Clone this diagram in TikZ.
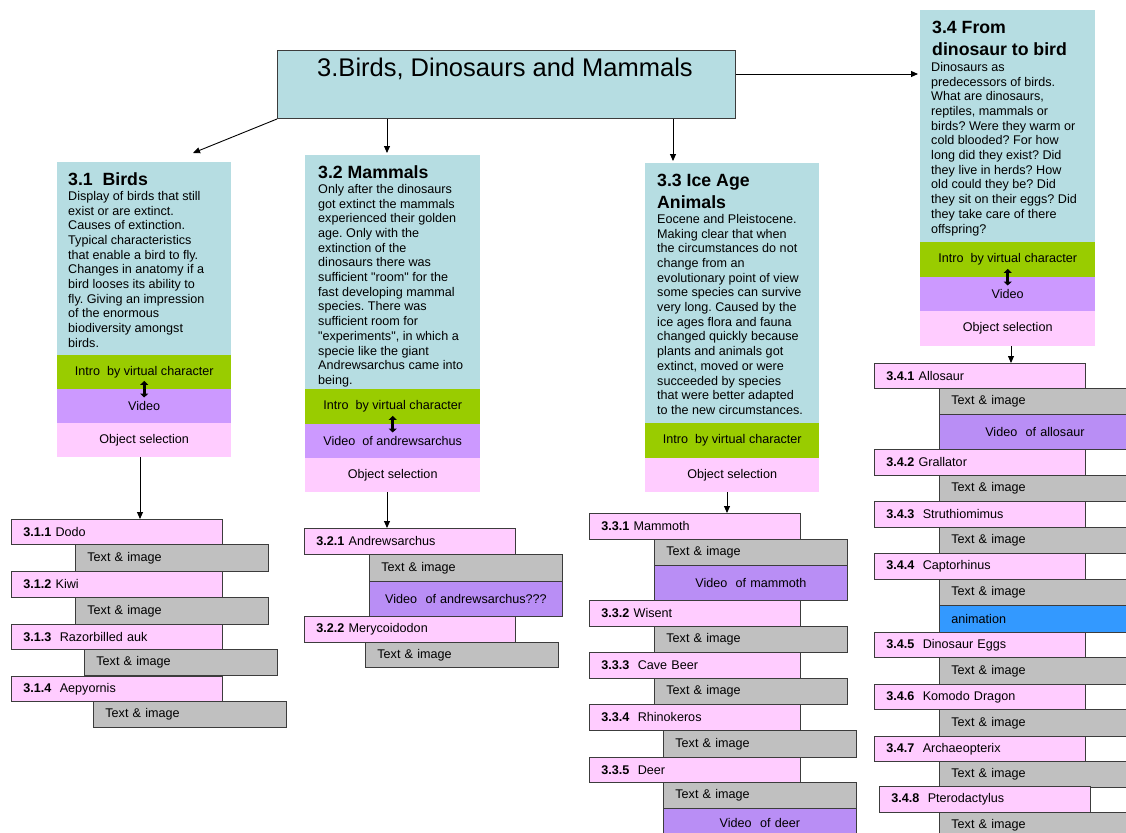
\documentclass[tikz,border=0pt]{standalone}
\usepackage{fontspec}
\setmainfont{Liberation Sans}[Ligatures=TeXOff]
\usetikzlibrary{arrows.meta}
\frenchspacing
\definecolor{hblue}{RGB}{182,221,226}
\definecolor{igreen}{RGB}{153,204,0}
\definecolor{vpurple}{RGB}{204,153,255}
\definecolor{vpurpletwo}{RGB}{185,142,245}
\definecolor{opink}{RGB}{255,204,255}
\definecolor{tgray}{RGB}{192,192,192}
\definecolor{anblue}{RGB}{51,153,255}
\definecolor{edgec}{RGB}{60,60,60}
\newcommand\hfnt{\fontsize{17.7}{22}\selectfont\bfseries}
\newcommand\bfnt{\fontsize{12.6}{14.7}\selectfont}
\newcommand\lfnt{\fontsize{12.6}{14.7}\selectfont}
\begin{document}
\begin{tikzpicture}[x=1pt,y=-1pt,
  hdrbox/.style={anchor=north west, inner sep=0pt, fill=hblue},
  bandbox/.style={anchor=north west, inner sep=0pt, font=\lfnt, align=center},
  headtext/.style={anchor=north west, inner sep=0pt, font=\hfnt, align=left},
  bodytext/.style={anchor=north west, inner sep=0pt, font=\bfnt, align=left},
  itembox/.style={anchor=north west, draw=edgec, line width=0.8pt, inner xsep=12pt, inner ysep=0pt, font=\lfnt},
  pk/.style={itembox, fill=opink, text width=187pt, align=left},
  gr/.style={itembox, fill=tgray, text width=169pt, align=left},
  gw/.style={itembox, fill=tgray, text width=167pt, align=left},
  vd/.style={itembox, fill=vpurpletwo, text width=169pt, align=center},
  conn/.style={line width=0.9pt, -{Triangle[width=6pt,length=7pt]}},
  dblarrow/.style={line width=2.8pt, {Triangle[width=8pt,length=4pt]}-{Triangle[width=8pt,length=4pt]}}
]
\useasboundingbox (0,0) rectangle (1126,832);
\clip (0,0) rectangle (1126,832);
\fill[white] (0,0) rectangle (1126,832);

% title
\node[anchor=north west, draw=edgec, line width=1pt, fill=hblue, minimum width=458pt, minimum height=68pt, inner sep=0pt] (title) at (277,50) {};
\node[font=\fontsize{25.5}{30}\selectfont, inner sep=0pt] (ttl) at (505,69) {3.Birds, Dinosaurs and Mammals};

% ---------- 3.1 ----------
\node[hdrbox, minimum width=174pt, minimum height=193pt] (b31) at (57,162) {};
\node[headtext] (h31) at (68,172.5) {3.1\ \ Birds};
\node[bodytext] (d31) at (68,191) {Display of birds that still\\exist or are extinct.\\Causes of extinction.\\Typical characteristics\\that enable a bird to fly.\\Changes in anatomy if a\\bird looses its ability to\\fly. Giving an impression\\of the enormous\\biodiversity amongst\\birds.};
\node[bandbox, fill=igreen, minimum width=174pt, minimum height=34pt] (g31) at (57,355) {Intro\ \ by virtual character};
\node[bandbox, fill=vpurple, minimum width=174pt, minimum height=34pt] (v31) at (57,389) {Video};
\node[bandbox, fill=opink, minimum width=174pt, minimum height=34pt] (o31) at (57,423) {Object selection};
\draw[dblarrow] ([yshift=8.5pt]g31.south) -- ([yshift=-8.5pt]v31.north);

% ---------- 3.2 ----------
\node[hdrbox, minimum width=175pt, minimum height=234pt] (b32) at (305,155) {};
\node[headtext] (h32) at (318,165.5) {3.2 Mammals};
\node[bodytext] (d32) at (318,184) {Only after the dinosaurs\\got extinct the mammals\\experienced their golden\\age. Only with the\\extinction of the\\dinosaurs there was\\sufficient "room" for the\\fast developing mammal\\species. There was\\sufficient room for\\"experiments", in which a\\specie like the giant\\Andrewsarchus came into\\being.};
\node[bandbox, fill=igreen, minimum width=175pt, minimum height=35pt] (g32) at (305,389) {Intro\ \ by virtual character};
\node[bandbox, fill=vpurple, minimum width=175pt, minimum height=34pt] (v32) at (305,424) {Video\ \ of andrewsarchus};
\node[bandbox, fill=opink, minimum width=175pt, minimum height=34pt] (o32) at (305,458) {Object selection};
\draw[dblarrow] ([yshift=8.5pt]g32.south) -- ([yshift=-8.5pt]v32.north);

% ---------- 3.3 ----------
\node[hdrbox, minimum width=174pt, minimum height=260pt] (b33) at (645,163) {};
\node[headtext] (h33) at (657,173.5) {3.3 Ice Age\\Animals};
\node[bodytext] (d33) at (657,214) {Eocene and Pleistocene.\\Making clear that when\\the circumstances do not\\change from an\\evolutionary point of view\\some species can survive\\very long. Caused by the\\ice ages flora and fauna\\changed quickly because\\plants and animals got\\extinct, moved or were\\succeeded by species\\that were better adapted\\to the new circumstances.};
\node[bandbox, fill=igreen, minimum width=174pt, minimum height=35pt] (g33) at (645,423) {Intro\ \ by virtual character};
\node[bandbox, fill=opink, minimum width=174pt, minimum height=34pt] (o33) at (645,458) {Object selection};

% ---------- 3.4 ----------
\node[hdrbox, minimum width=175pt, minimum height=232pt] (b34) at (920,10) {};
\node[headtext] (h34) at (932,20.5) {3.4 From\\dinosaur to bird};
\node[bodytext] (d34) at (931,62) {Dinosaurs as\\predecessors of birds.\\What are dinosaurs,\\reptiles, mammals or\\birds? Were they warm or\\cold blooded? For how\\long did they exist? Did\\they live in herds? How\\old could they be? Did\\they sit on their eggs? Did\\they take care of there\\offspring?};
\node[bandbox, fill=igreen, minimum width=175pt, minimum height=35pt] (g34) at (920,242) {Intro\ \ by virtual character};
\node[bandbox, fill=vpurple, minimum width=175pt, minimum height=34pt] (v34) at (920,277) {Video};
\node[bandbox, fill=opink, minimum width=175pt, minimum height=35pt] (o34) at (920,311) {Object selection};
\draw[dblarrow] ([yshift=8.5pt]g34.south) -- ([yshift=-8.5pt]v34.north);

% ---------- list 3.1 ----------
\node[pk, minimum height=25pt] (n311) at (11,519) {\textbf{3.1.1} Dodo};
\node[gr, minimum height=27pt] (t311) at (75,544) {Text \& image};
\node[pk, minimum height=26pt] (n312) at (11,571) {\textbf{3.1.2} Kiwi};
\node[gr, minimum height=27pt] (t312) at (75,597) {Text \& image};
\node[pk, minimum height=25pt] (n313) at (11,624) {\textbf{3.1.3}\ \ Razorbilled auk};
\node[gr, minimum height=26pt] (t313) at (84,649) {Text \& image};
\node[pk, minimum height=25pt] (n314) at (11,676) {\textbf{3.1.4}\ \ Aepyornis};
\node[gr, minimum height=26pt] (t314) at (93,701) {Text \& image};

% ---------- list 3.2 ----------
\node[pk, minimum height=26pt] (n321) at (304,528) {\textbf{3.2.1} Andrewsarchus};
\node[gr, minimum height=27pt] (t321) at (369,554) {Text \& image};
\node[vd, minimum height=35pt] (v321) at (369,581) {Video\ \ of andrewsarchus???};
\node[pk, minimum height=26pt] (n322) at (304,616) {\textbf{3.2.2} Merycoidodon};
\node[gr, minimum height=25pt] (t322) at (365,642) {Text \& image};

% ---------- list 3.3 ----------
\node[pk, minimum height=26pt] (n331) at (589,513) {\textbf{3.3.1} Mammoth};
\node[gr, minimum height=26pt] (t331) at (654,539) {Text \& image};
\node[vd, minimum height=35pt] (v331) at (654,565) {Video\ \ of mammoth};
\node[pk, minimum height=26pt] (n332) at (589,600) {\textbf{3.3.2} Wisent};
\node[gr, minimum height=26pt] (t332) at (654,626) {Text \& image};
\node[pk, minimum height=26pt] (n333) at (589,652) {\textbf{3.3.3}\ \ Cave Beer};
\node[gr, minimum height=26pt] (t333) at (654,678) {Text \& image};
\node[pk, minimum height=26pt] (n334) at (589,704) {\textbf{3.3.4}\ \ Rhinokeros};
\node[gr, minimum height=27pt] (t334) at (663,730) {Text \& image};
\node[pk, minimum height=25pt] (n335) at (589,757) {\textbf{3.3.5}\ \ Deer};
\node[gr, minimum height=26pt] (t335) at (663,782) {Text \& image};
\node[vd, minimum height=30pt] (v335) at (663,808) {Video\ \ of deer};

% ---------- list 3.4 ----------
\node[pk, minimum height=25pt] (n341) at (874,363) {\textbf{3.4.1} Allosaur};
\node[gw, minimum height=26pt] (t341) at (939,388) {Text \& image};
\node[itembox, fill=vpurpletwo, text width=167pt, align=center, minimum height=35pt] (v341) at (939,414) {Video\ \ of allosaur};
\node[pk, minimum height=26pt] (n342) at (874,449) {\textbf{3.4.2} Grallator};
\node[gw, minimum height=26pt] (t342) at (939,475) {Text \& image};
\node[pk, minimum height=26pt] (n343) at (874,501) {\textbf{3.4.3}\ \ Struthiomimus};
\node[gw, minimum height=26pt] (t343) at (939,527) {Text \& image};
\node[pk, minimum height=26pt] (n344) at (874,553) {\textbf{3.4.4}\ \ Captorhinus};
\node[gw, minimum height=26pt] (t344) at (939,579) {Text \& image};
\node[itembox, fill=anblue, text width=167pt, align=left, minimum height=27pt] (a344) at (939,605) {animation};
\node[pk, minimum height=25pt] (n345) at (874,632) {\textbf{3.4.5}\ \ Dinosaur Eggs};
\node[gw, minimum height=27pt] (t345) at (939,657) {Text \& image};
\node[pk, minimum height=25pt] (n346) at (874,684) {\textbf{3.4.6}\ \ Komodo Dragon};
\node[gw, minimum height=27pt] (t346) at (939,709) {Text \& image};
\node[pk, minimum height=25pt] (n347) at (874,736) {\textbf{3.4.7}\ \ Archaeopterix};
\node[gw, minimum height=26pt] (t347) at (939,761) {Text \& image};
\node[itembox, fill=opink, text width=187pt, align=left, minimum height=26pt] (n348) at (879,786) {\textbf{3.4.8}\ \ Pterodactylus};
\node[gw, minimum height=26pt] (t348) at (939,812) {Text \& image};

% ---------- connectors ----------
\coordinate (e31) at (193,153);
\coordinate (e32) at (387,153);
\coordinate (e33) at (673,161);
\coordinate (e34) at (918,74);
\draw[conn] (title.south west) -- (e31);
\draw[conn] (title.south -| e32) -- (e32);
\draw[conn] (title.south -| e33) -- (e33);
\draw[conn] (title.east |- e34) -- (e34);
\draw[conn] (o31.south -| 140,0) -- (n311.north -| 140,0);
\draw[conn] (o32.south -| 387,0) -- (n321.north -| 387,0);
\draw[conn] (o33.south -| 727,0) -- (n331.north -| 727,0);
\draw[conn] (o34.south -| 1011,0) -- (n341.north -| 1011,0);
\end{tikzpicture}
\end{document}
